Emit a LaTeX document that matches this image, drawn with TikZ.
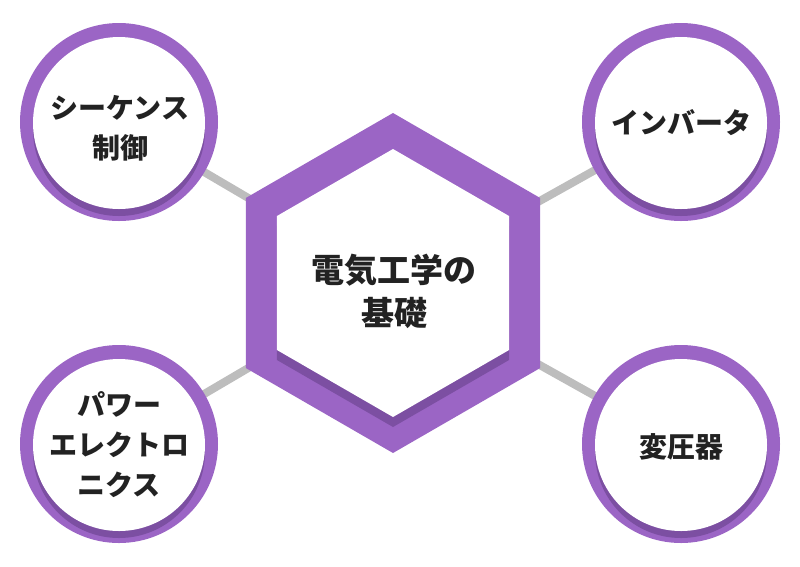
\documentclass[tikz,border=0pt]{standalone}
\usepackage{fontspec}
\usepackage{tikz}
\newfontfamily\jpfont{Noto Sans CJK JP}
\definecolor{ringpurple}{HTML}{9B65C5}
\definecolor{shadepurple}{HTML}{7C4FA2}
\definecolor{linkgray}{HTML}{BDBDBD}
\definecolor{textdark}{HTML}{222222}

\begin{document}
\begin{tikzpicture}[x=1pt,y=-1pt,
    link/.style={draw=linkgray,line width=8pt},
    ring/.style={fill=ringpurple},
    shade/.style={fill=shadepurple},
    face/.style={fill=white},
    topiclabel/.style={text=textdark,align=center,inner sep=0pt,
        font=\jpfont\bfseries\fontsize{28}{40}\selectfont},
    hublabel/.style={text=textdark,align=center,inner sep=0pt,
        font=\jpfont\bfseries\fontsize{33}{43}\selectfont}]
        \useasboundingbox (0,0) rectangle (800,566);
        % centres
        \coordinate (hub) at (393,283);
        \coordinate (seq) at (119,122);
        \coordinate (inv) at (681,122);
        \coordinate (pow) at (119,444);
        \coordinate (trf) at (681,444);
        % links
        \draw [link] (seq) -- (hub);
        \draw [link] (inv) -- (hub);
        \draw [link] (pow) -- (hub);
        \draw [link] (trf) -- (hub);
        % circles
        \fill [ring] (seq) circle (99);
        \fill [shade] ([yshift=-8pt]seq) circle (86);
        \fill [face] ([yshift=-1pt]seq) circle (86);
        \fill [ring] (inv) circle (99);
        \fill [shade] ([yshift=-8pt]inv) circle (86);
        \fill [face] ([yshift=-1pt]inv) circle (86);
        \fill [ring] (pow) circle (99);
        \fill [shade] ([yshift=-8pt]pow) circle (86);
        \fill [face] ([yshift=-1pt]pow) circle (86);
        \fill [ring] (trf) circle (99);
        \fill [shade] ([yshift=-8pt]trf) circle (86);
        \fill [face] ([yshift=-1pt]trf) circle (86);
        % hexagon
        \fill [ring] (hub) +(90:170) -- +(150:170) -- +(210:170) -- +(270:170)
            -- +(330:170) -- +(30:170) -- cycle;
        \fill [shade] ([yshift=-10pt]hub) +(90:134) -- +(150:134) -- +(210:134) -- +(270:134)
            -- +(330:134) -- +(30:134) -- cycle;
        \fill [face] (hub) +(90:134) -- +(150:134) -- +(210:134) -- +(270:134)
            -- +(330:134) -- +(30:134) -- cycle;
        % labels
        \node [hublabel] (hubtext) at (394,291) {電気工学の\\基礎};
        \node [topiclabel] (seqtext) at (120,128) {シーケンス\\制御};
        \node [topiclabel] (invtext) at (681,123) {インバータ};
        \node [topiclabel] (powtext) at (119,445) {パワー\\エレクトロ\\ニクス};
        \node [topiclabel] (trftext) at (681,447) {変圧器};
\end{tikzpicture}
\end{document}
